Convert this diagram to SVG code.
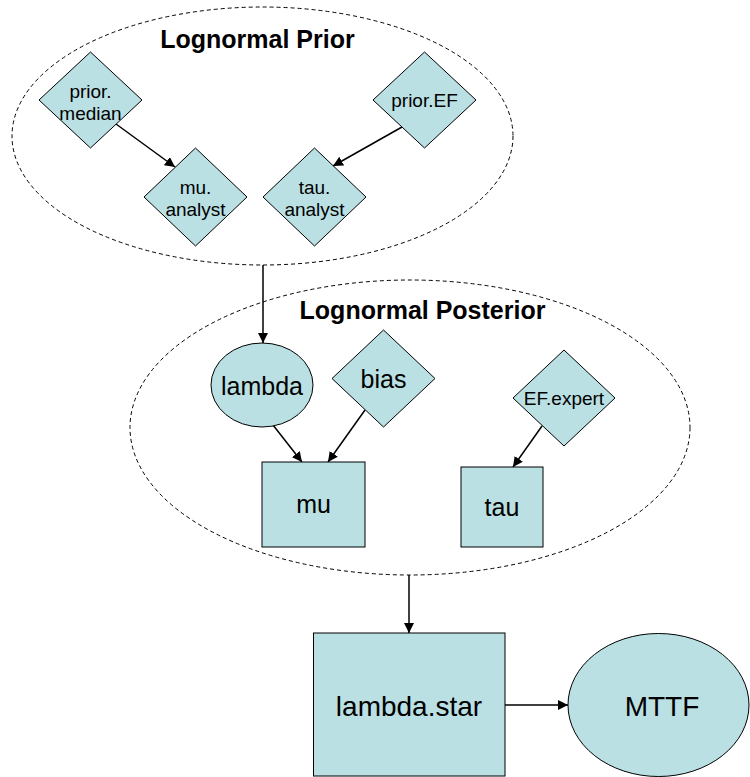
<svg xmlns="http://www.w3.org/2000/svg" width="750" height="777" viewBox="0 0 750 777">
  <defs>
    <marker id="arrow" viewBox="0 0 10 10" refX="10" refY="5" markerWidth="10" markerHeight="10" markerUnits="userSpaceOnUse" orient="auto">
      <path d="M0,0 L10,5 L0,10 z" fill="#000"/>
    </marker>
  </defs>
  <style>
    .grp { fill: none; stroke: #000; stroke-width: 1; stroke-dasharray: 4 3; }
    .node { fill: #BAE0E3; stroke: #000; stroke-width: 1; }
    .title { font-family: "Liberation Sans", Arial, sans-serif; font-weight: bold; font-size: 25px; text-anchor: middle; fill: #000; }
    .t19 { font-family: "Liberation Sans", Arial, sans-serif; font-size: 19px; text-anchor: middle; fill: #000; }
    .t25 { font-family: "Liberation Sans", Arial, sans-serif; font-size: 25px; text-anchor: middle; fill: #000; }
    .t28 { font-family: "Liberation Sans", Arial, sans-serif; font-size: 28px; text-anchor: middle; fill: #000; }
    .edge { fill: none; stroke: #000; stroke-width: 1.5; marker-end: url(#arrow); }
  </style>
  <rect width="750" height="777" fill="#fff"/>

  <g id="prior-group">
    <ellipse class="grp" cx="262.5" cy="136" rx="250.5" ry="129"/>
    <text class="title" x="257.5" y="48">Lognormal Prior</text>
  </g>
  <g id="posterior-group">
    <ellipse class="grp" cx="410" cy="427.5" rx="280" ry="147.5"/>
    <text class="title" x="422.5" y="319">Lognormal Posterior</text>
  </g>

  <g id="connectors">
    <line class="edge" x1="116" y1="124" x2="175" y2="167"/>
    <line class="edge" x1="402" y1="127" x2="333" y2="166"/>
    <line class="edge" x1="263" y1="265" x2="263" y2="343"/>
    <line class="edge" x1="273" y1="425" x2="302" y2="462"/>
    <line class="edge" x1="365" y1="410" x2="328" y2="462"/>
    <line class="edge" x1="542" y1="426" x2="513" y2="467"/>
    <line class="edge" x1="409" y1="575" x2="409" y2="633"/>
    <line class="edge" x1="505" y1="705" x2="568" y2="705"/>
  </g>

  <g id="prior-median">
    <polygon class="node" points="90.5,52 142,100 90.5,148 39,100"/>
    <text class="t19" x="90.5" y="98">prior.</text>
    <text class="t19" x="90.5" y="120">median</text>
  </g>
  <g id="prior-EF">
    <polygon class="node" points="424.5,52 476,100 424.5,148 373,100"/>
    <text class="t19" x="424.5" y="107">prior.EF</text>
  </g>
  <g id="mu-analyst">
    <polygon class="node" points="195.5,148 247,197 195.5,246 144,197"/>
    <text class="t19" x="195.5" y="194">mu.</text>
    <text class="t19" x="195.5" y="216">analyst</text>
  </g>
  <g id="tau-analyst">
    <polygon class="node" points="314.5,148 366,197 314.5,246 263,197"/>
    <text class="t19" x="314.5" y="194">tau.</text>
    <text class="t19" x="314.5" y="216">analyst</text>
  </g>
  <g id="lambda">
    <ellipse class="node" cx="262" cy="385" rx="51" ry="42"/>
    <text class="t25" x="262" y="395">lambda</text>
  </g>
  <g id="bias">
    <polygon class="node" points="383.5,330 435,378.5 383.5,427 332,378.5"/>
    <text class="t25" x="383.5" y="388">bias</text>
  </g>
  <g id="EF-expert">
    <polygon class="node" points="564,350 615,398 564,446 513,398"/>
    <text class="t19" x="564" y="405">EF.expert</text>
  </g>
  <g id="mu">
    <rect class="node" x="262" y="462" width="103" height="85"/>
    <text class="t25" x="313.5" y="513">mu</text>
  </g>
  <g id="tau">
    <rect class="node" x="461" y="467" width="82" height="80"/>
    <text class="t25" x="502" y="516">tau</text>
  </g>
  <g id="lambda-star">
    <rect class="node" x="313.5" y="633" width="191.5" height="143"/>
    <text class="t28" x="409" y="716">lambda.star</text>
  </g>
  <g id="MTTF">
    <ellipse class="node" cx="658.5" cy="705" rx="90.5" ry="71.5"/>
    <text class="t28" x="662" y="716">MTTF</text>
  </g>
</svg>
